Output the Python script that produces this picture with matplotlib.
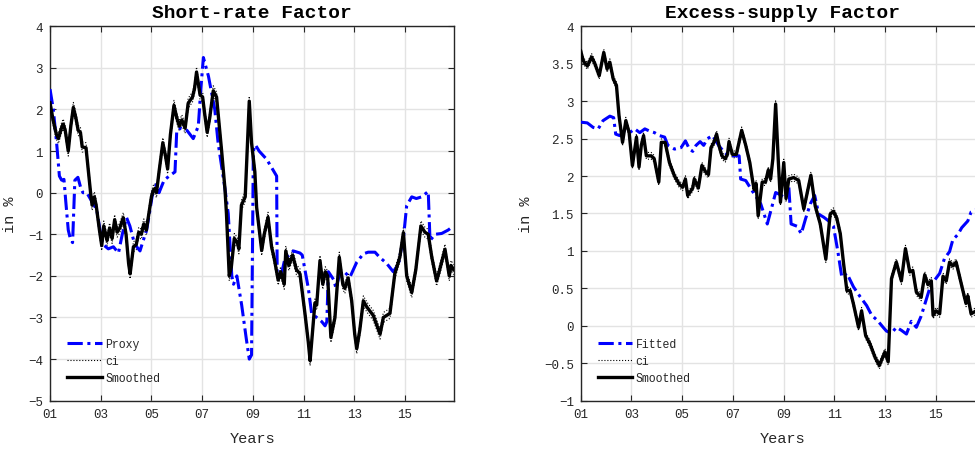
"""Short-rate and excess-supply factor panels, MATLAB-style."""
import matplotlib
matplotlib.use("Agg")
import matplotlib.pyplot as plt
import numpy as np

# --- data (decimal years, values in %) ---

short_smoothed_t = [
    2001.0, 2001.12, 2001.25, 2001.33, 2001.45, 2001.52, 2001.6, 2001.72, 2001.82, 2001.92,
    2002.02, 2002.11, 2002.2, 2002.27, 2002.42, 2002.5, 2002.6, 2002.66, 2002.75, 2002.82,
    2002.95, 2003.04, 2003.12, 2003.25, 2003.35, 2003.45, 2003.55, 2003.65, 2003.75, 2003.89,
    2004.0, 2004.1, 2004.16, 2004.29, 2004.4, 2004.5, 2004.6, 2004.7, 2004.8, 2004.9,
    2005.0, 2005.07, 2005.13, 2005.2, 2005.3, 2005.45, 2005.55, 2005.64, 2005.75, 2005.89,
    2006.0, 2006.1, 2006.2, 2006.33, 2006.45, 2006.62, 2006.7, 2006.78, 2006.92, 2007.02,
    2007.1, 2007.2, 2007.3, 2007.44, 2007.57, 2007.77, 2007.9, 2007.96, 2008.07, 2008.15,
    2008.27, 2008.39, 2008.45, 2008.55, 2008.7, 2008.86, 2008.95, 2009.08, 2009.15, 2009.35,
    2009.45, 2009.6, 2009.74, 2009.85, 2010.0, 2010.1, 2010.24, 2010.3, 2010.42, 2010.57,
    2010.72, 2010.86, 2011.06, 2011.19, 2011.26, 2011.45, 2011.52, 2011.65, 2011.76, 2011.86,
    2011.95, 2012.08, 2012.24, 2012.41, 2012.55, 2012.63, 2012.76, 2012.9, 2013.02, 2013.1,
    2013.22, 2013.36, 2013.5, 2013.75, 2013.9, 2014.02, 2014.15, 2014.41, 2014.6, 2014.8,
    2014.94, 2015.07, 2015.27, 2015.43, 2015.63, 2015.79, 2015.92, 2016.06, 2016.25, 2016.35,
    2016.58, 2016.75, 2016.82, 2016.92,
]
short_smoothed = [
    2.16, 1.75, 1.4, 1.3, 1.55, 1.65, 1.5, 1.0, 1.6, 2.05,
    1.8, 1.5, 1.45, 1.1, 1.08, 0.6, 0.0, -0.3, -0.1, -0.3,
    -0.9, -1.27, -0.8, -1.15, -0.85, -1.1, -0.65, -0.95, -0.85, -0.6,
    -1.0, -1.7, -1.95, -1.3, -1.25, -0.95, -1.0, -0.75, -0.9, -0.5,
    -0.1, 0.05, 0.1, 0.0, 0.5, 1.2, 0.9, 0.57, 1.4, 2.1,
    1.8, 1.6, 1.75, 1.55, 2.15, 2.3, 2.5, 2.9, 2.35, 2.3,
    1.9, 1.45, 1.8, 2.45, 2.3, 1.0, 0.1, -0.5, -2.0, -1.8,
    -1.1, -1.2, -1.35, -0.3, -0.1, 2.2, 1.2, 0.5, -0.35, -1.39,
    -1.0, -0.59, -1.3, -1.6, -2.1, -1.9, -2.2, -1.4, -1.75, -1.5,
    -1.85, -1.95, -2.92, -3.6, -4.04, -2.65, -2.7, -1.63, -2.2, -1.9,
    -2.0, -3.48, -3.0, -1.55, -2.2, -2.3, -2.05, -2.6, -3.4, -3.75,
    -3.3, -2.6, -2.75, -2.95, -3.2, -3.4, -3.0, -2.9, -1.95, -1.55,
    -0.96, -2.0, -2.4, -1.85, -0.8, -0.95, -1.0, -1.55, -2.12, -1.9,
    -1.36, -2.0, -1.75, -1.85,
]

short_proxy_t = [
    2001.0, 2001.13, 2001.26, 2001.37, 2001.46, 2001.55, 2001.62, 2001.72, 2001.8, 2001.89,
    2001.98, 2002.1, 2002.22, 2002.3, 2002.45, 2002.64, 2002.84, 2003.0, 2003.1, 2003.3,
    2003.5, 2003.7, 2003.85, 2004.02, 2004.15, 2004.3, 2004.42, 2004.55, 2004.65, 2004.81,
    2004.92, 2005.05, 2005.2, 2005.3, 2005.5, 2005.7, 2005.93, 2006.0, 2006.15, 2006.4,
    2006.65, 2006.85, 2006.95, 2007.05, 2007.25, 2007.5, 2007.63, 2007.9, 2008.03, 2008.17,
    2008.24, 2008.37, 2008.56, 2008.74, 2008.86, 2008.95, 2009.02, 2009.1, 2009.25, 2009.55,
    2009.94, 2009.96, 2010.07, 2010.15, 2010.26, 2010.6, 2010.86, 2010.95, 2011.19, 2011.32,
    2011.52, 2011.72, 2011.85, 2011.92, 2011.98, 2012.2, 2012.28, 2012.45, 2012.6, 2012.83,
    2013.1, 2013.36, 2013.55, 2013.82, 2014.0, 2014.28, 2014.54, 2014.74, 2014.94, 2015.07,
    2015.27, 2015.45, 2015.66, 2015.92, 2015.99, 2016.19, 2016.45, 2016.7, 2016.92,
]
short_proxy = [
    2.49, 2.0, 1.2, 0.4, 0.3, 0.32, -0.2, -0.9, -1.1, -1.2,
    0.3, 0.37, 0.1, 0.0, 0.0, -0.2, -0.4, -1.0, -1.25, -1.35,
    -1.3, -1.45, -1.0, -0.6, -0.8, -1.15, -1.3, -1.4, -1.2, -0.9,
    -0.5, 0.0, 0.2, 0.0, 0.3, 0.4, 0.5, 1.5, 1.55, 1.5,
    1.3, 1.6, 2.5, 3.25, 2.8, 2.0, 1.2, 0.1, -0.5, -2.0,
    -2.2, -2.0, -2.7, -3.5, -4.0, -3.9, 1.0, 1.15, 1.0, 0.8,
    0.4, -1.9, -2.0, -1.9, -1.6, -1.4, -1.45, -1.5, -2.3, -2.9,
    -3.0, -3.1, -3.2, -3.1, -1.9, -2.1, -2.3, -1.9, -1.9, -2.03,
    -1.67, -1.47, -1.43, -1.43, -1.55, -1.7, -1.9, -1.72, -1.1, -0.31,
    -0.1, -0.14, -0.1, 0.03, -1.15, -1.0, -0.98, -0.9, -0.8,
]

excess_smoothed_t = [
    2001.0, 2001.1, 2001.26, 2001.43, 2001.56, 2001.73, 2001.91, 2002.04, 2002.15, 2002.28,
    2002.41, 2002.51, 2002.65, 2002.78, 2002.91, 2003.04, 2003.2, 2003.3, 2003.39, 2003.48,
    2003.59, 2003.78, 2003.9, 2004.08, 2004.18, 2004.33, 2004.5, 2004.7, 2004.89, 2005.02,
    2005.13, 2005.22, 2005.42, 2005.48, 2005.64, 2005.78, 2005.94, 2006.04, 2006.14, 2006.27,
    2006.36, 2006.46, 2006.57, 2006.7, 2006.79, 2006.85, 2006.98, 2007.14, 2007.35, 2007.51,
    2007.67, 2007.77, 2007.84, 2007.92, 2008.0, 2008.16, 2008.29, 2008.4, 2008.49, 2008.58,
    2008.69, 2008.79, 2008.88, 2009.01, 2009.1, 2009.21, 2009.4, 2009.6, 2009.8, 2009.9,
    2010.08, 2010.25, 2010.45, 2010.67, 2010.84, 2010.97, 2011.1, 2011.24, 2011.37, 2011.5,
    2011.63, 2011.76, 2011.96, 2012.08, 2012.24, 2012.41, 2012.61, 2012.78, 2013.0, 2013.13,
    2013.26, 2013.45, 2013.65, 2013.81, 2013.98, 2014.1, 2014.24, 2014.43, 2014.57, 2014.7,
    2014.83, 2014.9, 2015.02, 2015.16, 2015.29, 2015.42, 2015.55, 2015.68, 2015.81, 2015.95,
    2016.14, 2016.2, 2016.27, 2016.4, 2016.6, 2016.92,
]
excess_smoothed = [
    3.67, 3.54, 3.47, 3.59, 3.5, 3.34, 3.65, 3.43, 3.52, 3.3,
    3.21, 2.81, 2.45, 2.74, 2.58, 2.14, 2.52, 2.12, 2.41, 2.54,
    2.27, 2.27, 2.23, 1.92, 2.45, 2.45, 2.18, 2.0, 1.89, 1.85,
    1.96, 1.74, 1.84, 1.96, 1.84, 2.14, 2.05, 2.02, 2.38, 2.46,
    2.56, 2.4, 2.27, 2.23, 2.29, 2.46, 2.29, 2.29, 2.61, 2.41,
    2.18, 1.96, 1.82, 1.9, 1.47, 1.92, 1.92, 2.08, 1.96, 2.23,
    2.96, 2.23, 1.65, 2.18, 1.7, 1.96, 1.98, 1.94, 1.56, 1.72,
    2.01, 1.6, 1.36, 0.89, 1.49, 1.53, 1.44, 1.23, 0.83, 0.47,
    0.47, 0.29, -0.02, 0.2, -0.13, -0.24, -0.42, -0.53, -0.35, -0.48,
    0.63, 0.85, 0.6, 1.03, 0.72, 0.74, 0.45, 0.38, 0.68, 0.55,
    0.6, 0.14, 0.2, 0.16, 0.66, 0.6, 0.85, 0.8, 0.85, 0.65,
    0.38, 0.3, 0.4, 0.16, 0.2, 0.1,
]

excess_fitted_t = [
    2001.0, 2001.26, 2001.49, 2001.69, 2001.88, 2002.15, 2002.3, 2002.38, 2002.54, 2002.74,
    2002.93, 2003.13, 2003.33, 2003.53, 2003.72, 2003.91, 2004.11, 2004.31, 2004.44, 2004.7,
    2004.96, 2005.13, 2005.29, 2005.42, 2005.55, 2005.71, 2005.85, 2006.0, 2006.2, 2006.46,
    2006.66, 2006.85, 2007.05, 2007.25, 2007.31, 2007.51, 2007.77, 2008.1, 2008.36, 2008.55,
    2008.69, 2008.82, 2009.01, 2009.21, 2009.3, 2009.53, 2009.7, 2009.87, 2010.06, 2010.23,
    2010.39, 2010.59, 2010.78, 2010.97, 2011.14, 2011.3, 2011.5, 2011.76, 2012.02, 2012.28,
    2012.48, 2012.71, 2012.93, 2013.06, 2013.26, 2013.45, 2013.65, 2013.85, 2014.04, 2014.24,
    2014.43, 2014.63, 2014.83, 2014.96, 2015.16, 2015.35, 2015.55, 2015.68, 2015.88, 2016.03,
    2016.27, 2016.4, 2016.6, 2016.92,
]
excess_fitted = [
    2.72, 2.71, 2.65, 2.63, 2.74, 2.8, 2.78, 2.56, 2.54, 2.61,
    2.58, 2.63, 2.58, 2.63, 2.6, 2.58, 2.54, 2.52, 2.41, 2.36,
    2.38, 2.47, 2.36, 2.33, 2.41, 2.46, 2.41, 2.5, 2.54, 2.4,
    2.32, 2.27, 2.27, 2.27, 1.96, 1.94, 1.8, 1.63, 1.36, 1.6,
    1.78, 1.76, 1.72, 1.85, 1.36, 1.33, 1.23, 1.43, 1.63, 1.74,
    1.49, 1.45, 1.4, 1.33, 1.0, 0.65, 0.7, 0.52, 0.39, 0.27,
    0.14, 0.07, -0.02, -0.07, -0.1, -0.02, -0.06, -0.11, 0.06, -0.02,
    0.13, 0.35, 0.57, 0.61, 0.7, 0.9, 0.99, 1.15, 1.22, 1.31,
    1.4, 1.52, 1.55, 1.6,
]

# half-width of the confidence band around the smoothed factor
short_ci_halfwidth = 0.12
excess_ci_halfwidth = 0.045

year_ticks = list(range(2001, 2017, 2))
year_labels = [f"{y % 100:02d}" for y in year_ticks]

# --- style ---
plt.rcParams["font.family"] = ["Liberation Mono", "DejaVu Sans Mono"]
plt.rcParams["axes.unicode_minus"] = True

TEXT_GREY = "#262626"
GRID_GREY = "#e3e3e3"


def draw_panel(ax, title, fit_label, fit_t, fit_v, sm_t, sm_v, ci_hw, ylim, yticks):
    sm_v = np.asarray(sm_v)
    ax.plot(fit_t, fit_v, color="#0000ff", linestyle=(0, (5, 1.5, 1, 1.5)),
            linewidth=2.2, label=fit_label, zorder=3)
    ax.plot(sm_t, sm_v + ci_hw, color="black", linestyle=":", linewidth=0.8,
            label="ci", zorder=2)
    ax.plot(sm_t, sm_v - ci_hw, color="black", linestyle=":", linewidth=0.8, zorder=2)
    ax.plot(sm_t, sm_v, color="black", linewidth=2.4, label="Smoothed", zorder=4)

    ax.set_xlim(2001, 2016.95)
    ax.set_ylim(*ylim)
    ax.set_xticks(year_ticks)
    ax.set_xticklabels(year_labels)
    ax.set_yticks(yticks)
    ax.set_yticklabels([f"{t:g}".replace("-", "\u2212") for t in yticks])

    ax.grid(True, color=GRID_GREY, linewidth=1.0)
    ax.set_axisbelow(True)
    ax.tick_params(direction="in", top=True, right=True, length=4,
                   colors=TEXT_GREY, labelsize=9, pad=5)
    for spine in ax.spines.values():
        spine.set_color(TEXT_GREY)
        spine.set_linewidth(1.0)

    ax.set_title(title, fontsize=14, fontweight="bold", color="black", pad=7)
    ax.set_xlabel("Years", fontsize=11, color=TEXT_GREY, labelpad=8)
    ax.set_ylabel("in %", fontsize=11, color=TEXT_GREY, labelpad=8)

    leg = ax.legend(loc="lower left", frameon=False, fontsize=8.3,
                    handlelength=3.0, handletextpad=0.3, labelspacing=0.45,
                    borderaxespad=0.3, bbox_to_anchor=(0.022, 0.022))
    for text in leg.get_texts():
        text.set_color(TEXT_GREY)


fig = plt.figure(figsize=(9.75, 4.52), dpi=100)
ax_left = fig.add_axes([0.0513, 0.1113, 0.4147, 0.8283])
ax_right = fig.add_axes([0.5956, 0.1113, 0.4147, 0.8283])

draw_panel(ax_left, "Short-rate Factor", "Proxy", short_proxy_t, short_proxy,
           short_smoothed_t, short_smoothed, short_ci_halfwidth,
           (-5, 4), list(range(-5, 5)))
draw_panel(ax_right, "Excess-supply Factor", "Fitted", excess_fitted_t, excess_fitted,
           excess_smoothed_t, excess_smoothed, excess_ci_halfwidth,
           (-1, 4), [-1, -0.5, 0, 0.5, 1, 1.5, 2, 2.5, 3, 3.5, 4])

fig.savefig("out.png", dpi=100)
